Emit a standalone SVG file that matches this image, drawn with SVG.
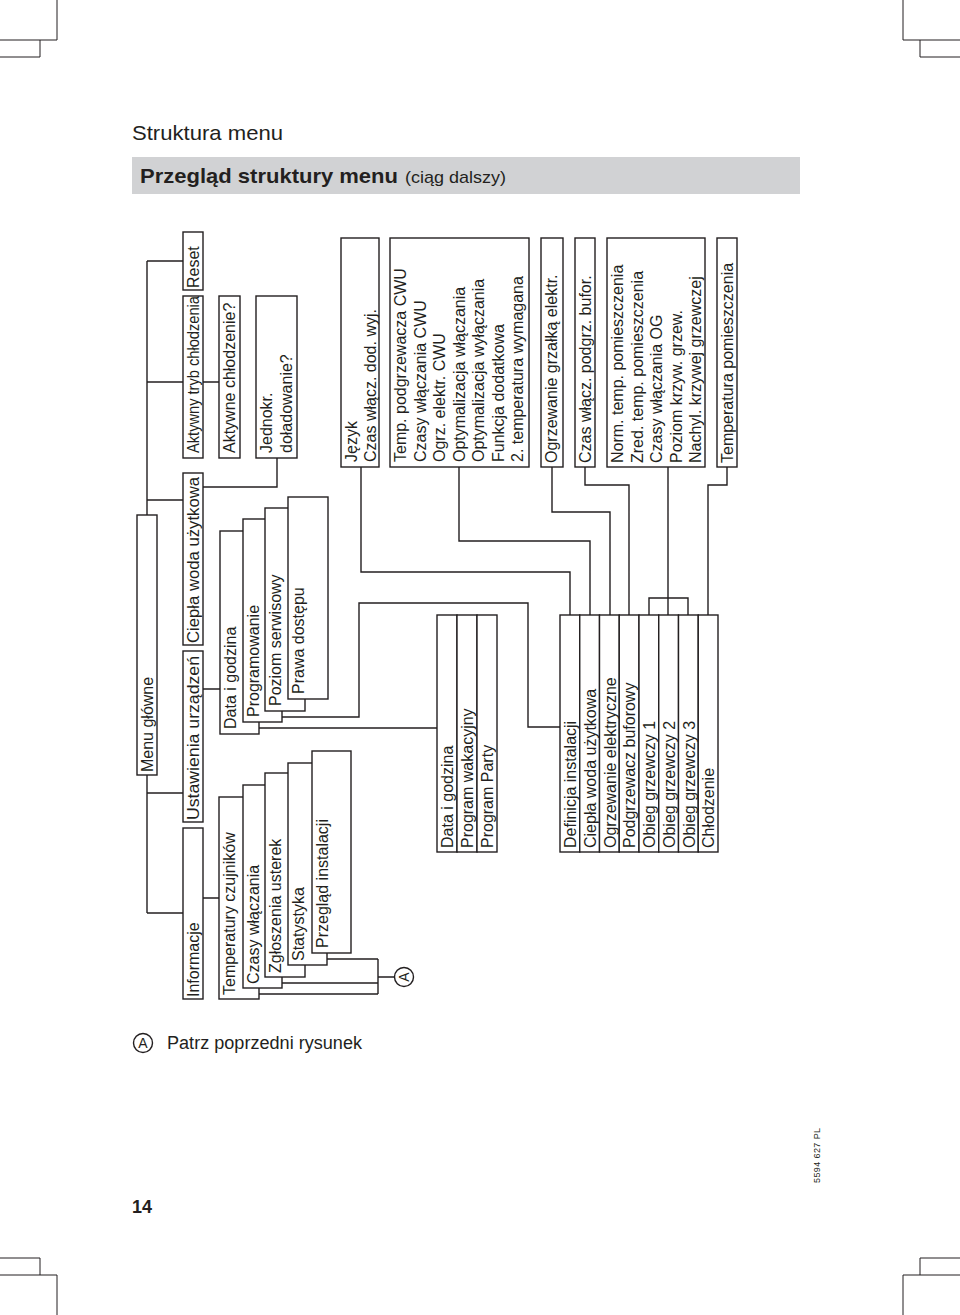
<svg xmlns="http://www.w3.org/2000/svg" width="960" height="1315" viewBox="0 0 960 1315">
<style>
.b{fill:#fff;stroke:#231f20;stroke-width:1.4}
.c{fill:none;stroke:#231f20;stroke-width:1.4}
.m{fill:none;stroke:#231f20;stroke-width:1}
.t{font-family:"Liberation Sans",Arial,sans-serif;font-size:16px;fill:#231f20}
.n{font-family:"Liberation Sans Narrow","Liberation Sans",Arial,sans-serif;fill:#231f20}
</style>
<rect width="960" height="1315" fill="#fff"/>
<g id="cropmarks">
<path class="m" d="M57,0V40H0M40,40V57H0M903,0V40H960M920,40V57H960M40,1258V1275M0,1258H40M57,1275V1315M0,1275H57M920,1258V1275M960,1258H920M903,1275V1315M960,1275H903"/>
</g>
<g id="header">
<text class="n" x="132" y="140" font-size="21" textLength="151" lengthAdjust="spacingAndGlyphs">Struktura menu</text>
<rect x="132" y="157" width="668" height="37" fill="#d1d2d4"/>
<text class="n" x="140" y="183" font-size="21" font-weight="bold" textLength="258" lengthAdjust="spacingAndGlyphs">Przegląd struktury menu</text>
<text class="n" x="405" y="183" font-size="17" textLength="101" lengthAdjust="spacingAndGlyphs">(ciąg dalszy)</text>
</g>
<g id="connectors">
<path class="c" d="M147,261V515M147,775V913M147,261H183M147,382H183M147,500H183M147,793H183M147,913H183"/>
<path class="c" d="M203,382H219M203,487H277V458M203,689H220M203,898H219"/>
<path class="c" d="M259,728H437M282,717H359V603H528V727H560"/>
<path class="c" d="M361,467V572H570V615M459,467V541H590V615M552,467V512H610V615M585,467V485H629V615M668,467V615M649,615V598H688V615M727,467V485H708V615"/>
<path class="c" d="M327,959H378M282,983H378M259,994H378M378,959V994M378,977H395"/>
</g>
<g id="n-menu"><rect class="b" x="137" y="515" width="20" height="260"/><text class="t" transform="translate(153,772) rotate(-90)">Menu główne</text></g>
<g id="n-reset"><rect class="b" x="183" y="232" width="20" height="58"/><text class="t" transform="translate(199,288) rotate(-90)">Reset</text></g>
<g id="n-aktywny"><rect class="b" x="183" y="296" width="20" height="162"/><text class="t" transform="translate(199,453) rotate(-90)" textLength="157" lengthAdjust="spacingAndGlyphs">Aktywny tryb chłodzenia</text></g>
<g id="n-cwu"><rect class="b" x="183" y="473" width="20" height="172"/><text class="t" transform="translate(199,643) rotate(-90)" textLength="166" lengthAdjust="spacingAndGlyphs">Ciepła woda użytkowa</text></g>
<g id="n-ustawienia"><rect class="b" x="183" y="651" width="20" height="171"/><text class="t" transform="translate(199,820) rotate(-90)" textLength="164" lengthAdjust="spacingAndGlyphs">Ustawienia urządzeń</text></g>
<g id="n-informacje"><rect class="b" x="183" y="828" width="20" height="171"/><text class="t" transform="translate(199,997) rotate(-90)">Informacje</text></g>
<g id="n-aktywne"><rect class="b" x="219" y="296" width="21" height="162"/><text class="t" transform="translate(235,453) rotate(-90)">Aktywne chłodzenie?</text></g>
<g id="n-jednokr"><rect class="b" x="256" y="296" width="41" height="162"/><text class="t" transform="translate(272,453) rotate(-90)"><tspan x="0" y="0">Jednokr.</tspan><tspan x="0" y="19.5">doładowanie?</tspan></text></g>
<g id="n-data1"><rect class="b" x="220" y="531" width="39" height="203"/><text class="t" transform="translate(236,729) rotate(-90)">Data i godzina</text></g>
<g id="n-programowanie"><rect class="b" x="243" y="519" width="39" height="203"/><text class="t" transform="translate(259,717) rotate(-90)">Programowanie</text></g>
<g id="n-poziom"><rect class="b" x="265" y="508" width="40" height="203"/><text class="t" transform="translate(281,706) rotate(-90)">Poziom serwisowy</text></g>
<g id="n-prawa"><rect class="b" x="288" y="497" width="40" height="202"/><text class="t" transform="translate(304,694) rotate(-90)">Prawa dostępu</text></g>
<g id="n-tempczuj"><rect class="b" x="219" y="797" width="40" height="202"/><text class="t" transform="translate(235,995) rotate(-90)">Temperatury czujników</text></g>
<g id="n-czasy"><rect class="b" x="243" y="785" width="39" height="203"/><text class="t" transform="translate(259,984) rotate(-90)">Czasy włączania</text></g>
<g id="n-zgloszenia"><rect class="b" x="265" y="773" width="40" height="204"/><text class="t" transform="translate(281,973) rotate(-90)">Zgłoszenia usterek</text></g>
<g id="n-statystyka"><rect class="b" x="288" y="763" width="39" height="202"/><text class="t" transform="translate(304,961) rotate(-90)">Statystyka</text></g>
<g id="n-przeglad"><rect class="b" x="312" y="751" width="39" height="202"/><text class="t" transform="translate(328,948) rotate(-90)">Przegląd instalacji</text></g>
<g id="n-jezyk"><rect class="b" x="341" y="238" width="38" height="229"/><text class="t" transform="translate(357,462) rotate(-90)"><tspan x="0" y="0">Język</tspan><tspan x="0" y="18.5">Czas włącz. dod. wyj.</tspan></text></g>
<g id="n-tempcwu"><rect class="b" x="390" y="238" width="139" height="229"/><text class="t" transform="translate(406,462) rotate(-90)"><tspan x="0" y="0">Temp. podgrzewacza CWU</tspan><tspan x="0" y="19.5">Czasy włączania CWU</tspan><tspan x="0" y="39">Ogrz. elektr. CWU</tspan><tspan x="0" y="58.5">Optymalizacja włączania</tspan><tspan x="0" y="78">Optymalizacja wyłączania</tspan><tspan x="0" y="97.5">Funkcja dodatkowa</tspan><tspan x="0" y="117">2. temperatura wymagana</tspan></text></g>
<g id="n-grzalka"><rect class="b" x="541" y="238" width="22" height="229"/><text class="t" transform="translate(557,463) rotate(-90)">Ogrzewanie grzałką elektr.</text></g>
<g id="n-bufor"><rect class="b" x="575" y="238" width="20" height="229"/><text class="t" transform="translate(591,463) rotate(-90)">Czas włącz. podgrz. bufor.</text></g>
<g id="n-norm"><rect class="b" x="607" y="238" width="98" height="229"/><text class="t" transform="translate(623,463) rotate(-90)"><tspan x="0" y="0">Norm. temp. pomieszczenia</tspan><tspan x="0" y="19.5">Zred. temp. pomieszczenia</tspan><tspan x="0" y="39">Czasy włączania OG</tspan><tspan x="0" y="58.5">Poziom krzyw. grzew.</tspan><tspan x="0" y="78">Nachyl. krzywej grzewczej</tspan></text></g>
<g id="n-temppom"><rect class="b" x="717" y="238" width="20" height="229"/><text class="t" transform="translate(733,463) rotate(-90)">Temperatura pomieszczenia</text></g>
<g id="n-prog-data"><rect class="b" x="437" y="615" width="20" height="237"/><text class="t" transform="translate(453,848) rotate(-90)">Data i godzina</text></g>
<g id="n-prog-wak"><rect class="b" x="457" y="615" width="20" height="237"/><text class="t" transform="translate(473,848) rotate(-90)">Program wakacyjny</text></g>
<g id="n-prog-party"><rect class="b" x="477" y="615" width="20" height="237"/><text class="t" transform="translate(493,848) rotate(-90)">Program Party</text></g>
<g id="n-def"><rect class="b" x="560" y="615" width="19.75" height="237"/><text class="t" transform="translate(576,848) rotate(-90)">Definicja instalacji</text></g>
<g id="n-ins-cwu"><rect class="b" x="579.75" y="615" width="19.75" height="237"/><text class="t" transform="translate(595.75,848) rotate(-90)">Ciepła woda użytkowa</text></g>
<g id="n-ins-ogrz"><rect class="b" x="599.5" y="615" width="19.75" height="237"/><text class="t" transform="translate(615.5,848) rotate(-90)">Ogrzewanie elektryczne</text></g>
<g id="n-ins-bufor"><rect class="b" x="619.25" y="615" width="19.75" height="237"/><text class="t" transform="translate(635.25,848) rotate(-90)">Podgrzewacz buforowy</text></g>
<g id="n-ob1"><rect class="b" x="639" y="615" width="19.75" height="237"/><text class="t" transform="translate(655,848) rotate(-90)">Obieg grzewczy 1</text></g>
<g id="n-ob2"><rect class="b" x="658.75" y="615" width="19.75" height="237"/><text class="t" transform="translate(674.75,848) rotate(-90)">Obieg grzewczy 2</text></g>
<g id="n-ob3"><rect class="b" x="678.5" y="615" width="19.75" height="237"/><text class="t" transform="translate(694.5,848) rotate(-90)">Obieg grzewczy 3</text></g>
<g id="n-chl"><rect class="b" x="698.25" y="615" width="19.75" height="237"/><text class="t" transform="translate(714.25,848) rotate(-90)">Chłodzenie</text></g>
<g id="n-A"><circle class="b" cx="404" cy="977" r="9.5"/><text class="t" style="font-size:14px" text-anchor="middle" transform="translate(409,977) rotate(-90)">A</text></g>
<g id="legend">
<circle class="c" cx="143" cy="1043" r="9.5" stroke-width="1"/>
<text class="t" style="font-size:14px" text-anchor="middle" x="143" y="1048">A</text>
<text class="n" x="167" y="1049" font-size="18" textLength="195" lengthAdjust="spacingAndGlyphs">Patrz poprzedni rysunek</text>
</g>
<g id="footer">
<text class="n" x="132" y="1213" font-size="18" font-weight="bold" textLength="20" lengthAdjust="spacingAndGlyphs">14</text>
<text class="t" style="font-size:9px;letter-spacing:0.4px" transform="translate(820,1183) rotate(-90)">5594 627 PL</text>
</g>
</svg>
